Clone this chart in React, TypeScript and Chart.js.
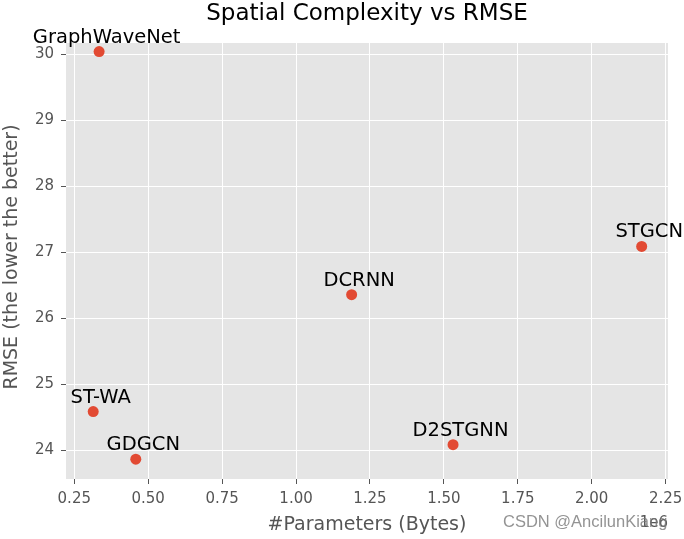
import React, { useEffect, useRef } from "react";
import { Chart, registerables } from "chart.js";

Chart.register(...registerables);

const modelNames = ["GraphWaveNet", "STGCN", "DCRNN", "ST-WA", "GDGCN", "D2STGNN"];
const paramsMillions = [0.334, 2.169, 1.188, 0.314, 0.458, 1.531];
const rmseValues = [30.04, 27.09, 26.36, 24.59, 23.87, 24.09];
const xTickValues = [0.25, 0.5, 0.75, 1.0, 1.25, 1.5, 1.75, 2.0, 2.25];
const yTickValues = [24, 25, 26, 27, 28, 29, 30];

const titleText = "Spatial Complexity vs RMSE";
const xLabelText = "#Parameters (Bytes)";
const yLabelText = "RMSE (the lower the better)";
const offsetText = "1e6";
const watermarkText = "CSDN @AncilunKiang";

const FONT = "'DejaVu Sans', sans-serif";

export default function App() {
  const ref = useRef<HTMLCanvasElement | null>(null);

  useEffect(() => {
    document.body.style.margin = "0";
    const canvas = ref.current;
    if (!canvas) return;

    const decor = {
      id: "decor",
      beforeDraw(chart: any) {
        const { ctx, chartArea } = chart;
        ctx.save();
        ctx.fillStyle = "#ffffff";
        ctx.fillRect(0, 0, chart.width, chart.height);
        ctx.fillStyle = "#E5E5E5";
        ctx.fillRect(chartArea.left, chartArea.top, chartArea.right - chartArea.left, chartArea.bottom - chartArea.top);
        ctx.restore();
      },
      afterDatasetsDraw(chart: any) {
        const { ctx } = chart;
        const xs = chart.scales.x;
        const ys = chart.scales.y;
        ctx.save();
        ctx.fillStyle = "#000000";
        ctx.font = `19.5px ${FONT}`;
        ctx.textAlign = "center";
        ctx.textBaseline = "alphabetic";
        modelNames.forEach((name, i) => {
          const px = xs.getPixelForValue(paramsMillions[i]);
          const py = ys.getPixelForValue(rmseValues[i]);
          ctx.fillText(name, px + 7.5, py - 9);
        });
        ctx.restore();
      },
      afterDraw(chart: any) {
        const { ctx, chartArea } = chart;
        const cx = (chartArea.left + chartArea.right) / 2;
        const cy = (chartArea.top + chartArea.bottom) / 2;
        ctx.save();
        // title
        ctx.fillStyle = "#000000";
        ctx.font = `23px ${FONT}`;
        ctx.textAlign = "center";
        ctx.textBaseline = "alphabetic";
        ctx.fillText(titleText, cx, 20);
        // x label
        ctx.fillStyle = "#555555";
        ctx.font = `19px ${FONT}`;
        ctx.fillText(xLabelText, cx, 530);
        // y label
        ctx.save();
        ctx.translate(12, cy - 4);
        ctx.rotate(-Math.PI / 2);
        ctx.textBaseline = "middle";
        ctx.font = `19px ${FONT}`;
        ctx.fillText(yLabelText, 0, 0);
        ctx.restore();
        // offset text
        ctx.font = `15px ${FONT}`;
        ctx.textAlign = "right";
        ctx.fillStyle = "#555555";
        ctx.fillText(offsetText, chartArea.right, 527);
        // watermark
        ctx.font = `16.5px 'Liberation Sans', Arial, sans-serif`;
        ctx.textAlign = "left";
        ctx.fillStyle = "rgba(120,120,120,0.8)";
        ctx.fillText(watermarkText, 503, 527);
        ctx.restore();
      },
    };

    const chart = new Chart(canvas, {
      type: "scatter",
      data: {
        datasets: [
          {
            data: paramsMillions.map((x, i) => ({ x, y: rmseValues[i] })),
            backgroundColor: "#E24A33",
            borderWidth: 0,
            pointRadius: 5.5,
            pointHoverRadius: 5.5,
          },
        ],
      },
      options: {
        responsive: false,
        animation: false,
        devicePixelRatio: 1,
        layout: { padding: { top: 43, right: 16, left: 0, bottom: 0 } },
        plugins: {
          legend: { display: false },
          title: { display: false },
          tooltip: { enabled: false },
        },
        scales: {
          x: {
            type: "linear",
            min: 0.222,
            max: 2.258,
            afterBuildTicks: (axis: any) => {
              axis.ticks = xTickValues.map((v) => ({ value: v }));
            },
            afterFit: (s: any) => {
              s.height = 60;
              s.paddingLeft = 0;
              s.paddingRight = 0;
            },
            grid: {
              color: "#ffffff",
              lineWidth: 1,
              tickColor: "#555555",
              tickLength: 5,
              drawTicks: true,
            },
            border: { display: false },
            ticks: {
              color: "#555555",
              font: { family: FONT, size: 15 },
              padding: 6,
              maxRotation: 0,
              autoSkip: false,
              callback: (v: any) => Number(v).toFixed(2),
            },
          },
          y: {
            type: "linear",
            min: 23.57,
            max: 30.17,
            afterBuildTicks: (axis: any) => {
              axis.ticks = yTickValues.map((v) => ({ value: v }));
            },
            afterFit: (s: any) => {
              s.width = 66;
              s.paddingTop = 0;
              s.paddingBottom = 0;
            },
            grid: {
              color: "#ffffff",
              lineWidth: 1,
              tickColor: "#555555",
              tickLength: 5,
              drawTicks: true,
            },
            border: { display: false },
            ticks: {
              color: "#555555",
              font: { family: FONT, size: 15 },
              padding: 7,
              autoSkip: false,
              callback: (v: any) => String(v),
            },
          },
        },
      },
      plugins: [decor],
    });

    return () => chart.destroy();
  }, []);

  return (
    <div style={{ width: 684, height: 539 }}>
      <canvas ref={ref} width={684} height={539} style={{ display: "block" }} />
    </div>
  );
}
